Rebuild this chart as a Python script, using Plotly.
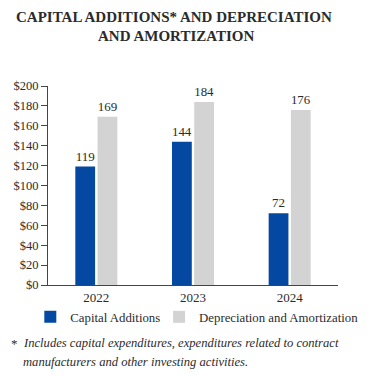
import plotly.graph_objects as go

years = ["2022", "2023", "2024"]
capital_additions = [119, 144, 72]
depreciation_amortization = [169, 184, 176]
tick_vals = [0, 20, 40, 60, 80, 100, 120, 140, 160, 180, 200]
tick_text = ["$" + str(v) for v in tick_vals]

SERIF = "Liberation Serif"
TXT = "#2b2b2b"

fig = go.Figure()
fig.add_trace(go.Bar(
    name="Capital Additions", x=years, y=capital_additions,
    marker=dict(color="#0548a2", line=dict(width=0)),
    text=capital_additions, textposition="outside",
    textfont=dict(family=SERIF, size=13, color=TXT), cliponaxis=False,
    legend="legend",
))
fig.add_trace(go.Bar(
    name="Depreciation and Amortization", x=years, y=depreciation_amortization,
    marker=dict(color="#d3d3d4", line=dict(width=0)),
    text=depreciation_amortization, textposition="outside",
    textfont=dict(family=SERIF, size=13, color=TXT), cliponaxis=False,
    legend="legend2",
))

def px_x(p):
    return (p - 48) / 295

def px_y(p):
    return (285 - p) / 199

legend_common = dict(orientation="h", yanchor="middle", y=px_y(317),
                     font=dict(family=SERIF, size=12.8, color=TXT), itemwidth=30,
                     bgcolor="rgba(0,0,0,0)")

fig.update_layout(
    width=376, height=376,
    margin=dict(l=48, r=33, t=86, b=91),
    paper_bgcolor="white", plot_bgcolor="white",
    barmode="group", bargap=0.54, bargroupgap=0.11,
    font=dict(family=SERIF, color=TXT, size=12),
    showlegend=True,
    legend=dict(x=px_x(30), xanchor="left", **legend_common),
    legend2=dict(x=px_x(161), xanchor="left", **legend_common),
    xaxis=dict(showline=True, linecolor="#444", linewidth=1, ticks="",
               tickfont=dict(family=SERIF, size=13, color=TXT)),
    yaxis=dict(range=[0, 200], tickvals=tick_vals, ticktext=tick_text,
               showline=True, linecolor="#444", linewidth=1, ticks="outside",
               ticklen=6, tickcolor="#444", showgrid=False, zeroline=False,
               tickfont=dict(family=SERIF, size=12.5, color=TXT)),
    annotations=[
        dict(text="<b>CAPITAL ADDITIONS* AND DEPRECIATION</b>",
             xref="paper", yref="paper", x=px_x(176), y=px_y(17),
             xanchor="center", yanchor="middle", showarrow=False,
             font=dict(family=SERIF, size=15, color=TXT)),
        dict(text="<b>AND AMORTIZATION</b>",
             xref="paper", yref="paper", x=px_x(178), y=px_y(36),
             xanchor="center", yanchor="middle", showarrow=False,
             font=dict(family=SERIF, size=15, color=TXT)),
        dict(text="*", xref="paper", yref="paper", x=px_x(8), y=px_y(343),
             xanchor="left", yanchor="middle", showarrow=False,
             font=dict(family=SERIF, size=13, color=TXT)),
        dict(text="<i>Includes capital expenditures, expenditures related to contract</i>",
             xref="paper", yref="paper", x=px_x(21), y=px_y(343),
             xanchor="left", yanchor="middle", showarrow=False,
             font=dict(family=SERIF, size=12.6, color=TXT)),
        dict(text="<i>manufacturers and other investing activities.</i>",
             xref="paper", yref="paper", x=px_x(21), y=px_y(362),
             xanchor="left", yanchor="middle", showarrow=False,
             font=dict(family=SERIF, size=12.6, color=TXT)),
    ],
)

fig.write_html("out.html", config={"displayModeBar": False},
               post_script="document.body.style.margin='0';")
